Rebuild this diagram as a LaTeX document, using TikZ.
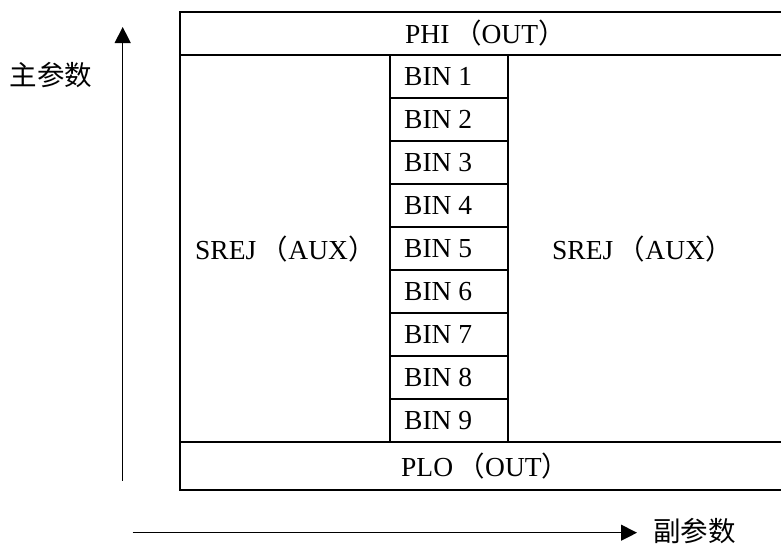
\documentclass[tikz,border=0pt]{standalone}
\usepackage{fontspec}
\setmainfont{Liberation Serif}
\newfontfamily\cjk{Noto Sans CJK SC}
\usetikzlibrary{arrows.meta}

\begin{document}
\begin{tikzpicture}[x=1pt, y=-1pt,
    grid/.style={line width=2pt},
    axis/.style={line width=1.2pt, -{Triangle[length=16pt,width=16pt]}},
    every node/.style={font=\fontsize{27.5}{32}\selectfont, inner sep=0pt}]
    \useasboundingbox (0,0) rectangle (781,544);
    % frame, runs off the right edge
    \draw[grid] (781,12) -- (180,12) -- (180,490) -- (781,490);
    \draw[grid] (180,55) -- (781,55);
    \draw[grid] (180,441.7) -- (781,441.7);
    \draw[grid] (390,55) -- (390,441.7);
    \draw[grid] (508,55) -- (508,441.7);
    \foreach \idx in {1,...,8}
        \draw[grid] (390,55+\idx*42.97) -- (508,55+\idx*42.97);
    \foreach \idx in {1,...,9}
        \node[anchor=west] (bin-\idx) at (404,55+\idx*42.97-21.48) {BIN \idx};
    \node[anchor=west] (phi) at (405,33.5) {PHI\,{\cjk （}OUT{\cjk ）}};
    \node[anchor=west] (plo) at (401,466) {PLO\,{\cjk （}OUT{\cjk ）}};
    \node[anchor=west] (srej-l) at (195,249) {SREJ\,{\cjk （}AUX{\cjk ）}};
    \node[anchor=west] (srej-r) at (552,249) {SREJ\,{\cjk （}AUX{\cjk ）}};
    % axes
    \coordinate (ax-lo) at (122.7,480.7);
    \coordinate (ax-hi) at (122.7,27);
    \coordinate (ax-l) at (132.7,532.7);
    \coordinate (ax-r) at (637,532.7);
    \draw[axis] (ax-lo) -- (ax-hi);
    \draw[axis] (ax-l) -- (ax-r);
    \node (main) at (51,75) {\cjk 主参数};
    \node[anchor=base, text depth=0pt] (sub) at (694.5,541) {\cjk 副参数};
\end{tikzpicture}
\end{document}
